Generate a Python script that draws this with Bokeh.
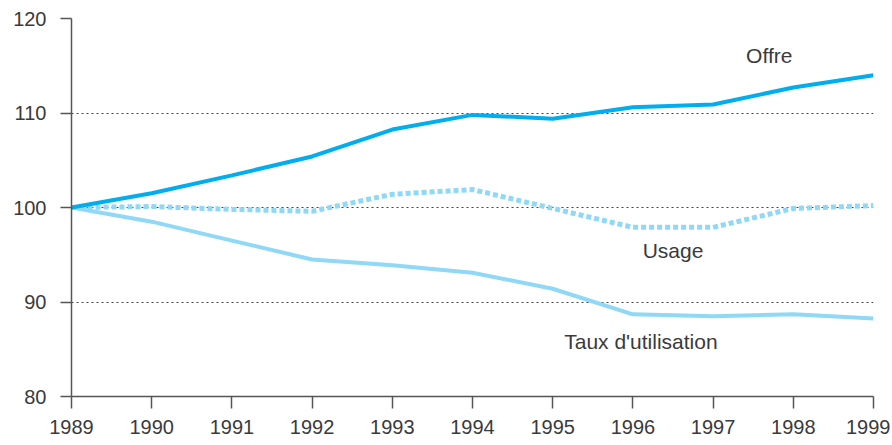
from bokeh.plotting import figure
from bokeh.embed import file_html
from bokeh.resources import INLINE
from bokeh.models import FixedTicker, Range1d, Label

years = [1989, 1990, 1991, 1992, 1993, 1994, 1995, 1996, 1997, 1998, 1999]
offre = [100.0, 101.5, 103.4, 105.4, 108.25, 109.8, 109.4, 110.6, 110.9, 112.7, 114.0]
usage = [100.0, 100.1, 99.8, 99.6, 101.4, 101.9, 99.9, 97.9, 97.9, 99.9, 100.2]
taux = [100.0, 98.5, 96.5, 94.5, 93.9, 93.1, 91.4, 88.7, 88.5, 88.7, 88.25]
y_ticks = [80, 90, 100, 110, 120]
series_names = ["Offre", "Usage", "Taux d'utilisation"]

FONT = "Liberation Sans"
TXT = "#3a3a3a"

p = figure(width=890, height=443, output_backend="svg", toolbar_location=None,
           x_range=Range1d(1989, 1999), y_range=Range1d(80, 120),
           min_border_left=71, min_border_right=17, min_border_top=18, min_border_bottom=47)
p.outline_line_color = None
p.background_fill_color = "white"

p.xgrid.grid_line_color = None
p.ygrid.grid_line_color = "#444444"
p.ygrid.grid_line_dash = "2 3"
p.ygrid.grid_line_width = 1.2

p.xaxis.ticker = FixedTicker(ticks=years)
p.yaxis.ticker = FixedTicker(ticks=y_ticks)
for ax in (p.xaxis, p.yaxis):
    ax.axis_line_color = "#555555"
    ax.axis_line_width = 1.5
    ax.major_tick_line_color = "#555555"
    ax.major_tick_line_width = 1.5
    ax.major_tick_in = 0
    ax.minor_tick_line_color = None
    ax.major_label_text_font = FONT
    ax.major_label_text_font_size = "20px"
    ax.major_label_text_color = TXT
p.xaxis.major_tick_out = 12
p.yaxis.major_tick_out = 11
p.xaxis.major_label_standoff = 11
p.yaxis.major_label_standoff = 14

p.line(years, taux, line_color="#8fd8f6", line_width=4)
p.line(years, usage, line_color="#8fd8f6", line_width=5, line_dash="5 3")
p.line(years, offre, line_color="#00aeef", line_width=4)

label_pos = [(1997.7, 116.1), (1996.5, 95.45), (1996.1, 85.8)]
for name, (lx, ly) in zip(series_names, label_pos):
    p.add_layout(Label(x=lx, y=ly, text=name, text_font=FONT, text_font_size="21px",
                       text_color=TXT, text_align="center", text_baseline="middle"))

open("out.html", "w").write(file_html(p, INLINE))
